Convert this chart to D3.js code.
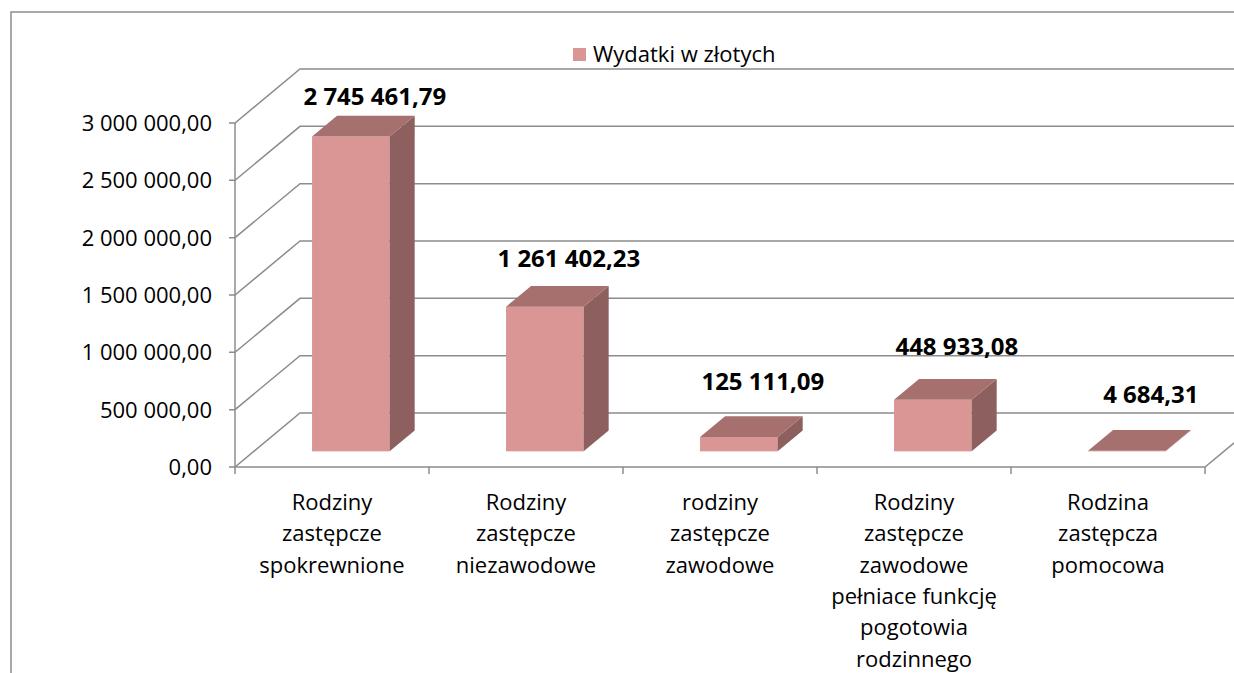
<!DOCTYPE html>
<html>
<head>
<meta charset="utf-8">
<script src="https://cdn.jsdelivr.net/npm/d3@7"></script>
<style>
  body { margin: 0; background: #fff; }
  text { font-family: "Open Sans", sans-serif; fill: #000; }
</style>
</head>
<body>
<script>
// data
var categories = [
  'Rodziny\nzastępcze\nspokrewnione',
  'Rodziny\nzastępcze\nniezawodowe',
  'rodziny\nzastępcze\nzawodowe',
  'Rodziny\nzastępcze\nzawodowe\npełniace funkcję\npogotowia\nrodzinnego',
  'Rodzina\nzastępcza\npomocowa'
];
var values = [2745461.79, 1261402.23, 125111.09, 448933.08, 4684.31];
var yTicks = [0, 500000, 1000000, 1500000, 2000000, 2500000, 3000000];
var seriesName = 'Wydatki w złotych';

var width = 1234, height = 673;
var depthX = 65, depthY = -54;   // 3d depth vector
var barFront = 0.29, barBack = 0.675;
var colFront = '#D99694', colTop = '#A5706E', colSide = '#8D5F5E';
var gridCol = '#8c8c8c';

var pl = d3.formatLocale({decimal: ',', thousands: ' ', grouping: [3], currency: ['', '']});
var fmt = pl.format(',.2f');

var svg = d3.select('body').append('svg')
  .attr('width', width).attr('height', height);

// outer chart border
svg.append('rect')
  .attr('x', 11).attr('y', 12)
  .attr('width', 1300).attr('height', 800)
  .attr('fill', 'none').attr('stroke', gridCol).attr('stroke-width', 1.5);

var x = d3.scaleBand().domain(categories).range([235, 1205]);
var y = d3.scaleLinear().domain([0, 3000000]).range([467, 123]);
var labelY = d3.scaleLinear().domain([0, 3000000]).range([404, 77]);

var x0 = x.range()[0], x1 = x.range()[1], yb = y(0);

// walls + gridlines
var grid = svg.append('g').attr('stroke', gridCol).attr('stroke-width', 1.5).attr('fill', 'none');
yTicks.forEach(function(t) {
  var yy = y(t);
  grid.append('path')
    .attr('d', 'M' + (x0 - 6) + ',' + yy + 'L' + x0 + ',' + yy +
      'L' + (x0 + depthX) + ',' + (yy + depthY) + 'L' + (width + 20) + ',' + (yy + depthY));
});
grid.append('line')
  .attr('x1', x0).attr('x2', x0)
  .attr('y1', y(3000000)).attr('y2', yb + 7);
grid.append('path')
  .attr('d', 'M' + x0 + ',' + yb + 'L' + x1 + ',' + yb + 'L' + (x1 + depthX) + ',' + (yb + depthY));
categories.forEach(function(c) {
  var xx = x(c) + x.bandwidth();
  grid.append('line').attr('x1', xx).attr('x2', xx).attr('y1', yb).attr('y2', yb + 7);
});

// y axis labels
svg.append('g').selectAll('text')
  .data(yTicks).enter().append('text')
  .attr('x', 212).attr('y', function(d) { return y(d); })
  .attr('dy', '0.36em')
  .attr('text-anchor', 'end')
  .style('font-size', '22px')
  .text(function(d) { return fmt(d); });

// bars
var bw = x.bandwidth() * 0.4;
var bars = svg.append('g');
values.forEach(function(v, i) {
  var bx = x(categories[i]) + (x.bandwidth() - bw) / 2 + barFront * depthX;
  var top = y(v) + barFront * depthY;
  var bot = yb + barFront * depthY;
  var sx = (barBack - barFront) * depthX, sy = (barBack - barFront) * depthY;
  var g = bars.append('g');
  g.append('rect')
    .attr('x', bx).attr('y', top)
    .attr('width', bw).attr('height', bot - top)
    .attr('fill', colFront);
  g.append('path')
    .attr('d', 'M' + (bx + bw) + ',' + top + 'L' + (bx + bw + sx) + ',' + (top + sy) +
      'L' + (bx + bw + sx) + ',' + (bot + sy) + 'L' + (bx + bw) + ',' + bot + 'Z')
    .attr('fill', colSide);
  g.append('path')
    .attr('d', 'M' + bx + ',' + top + 'L' + (bx + bw) + ',' + top +
      'L' + (bx + bw + sx) + ',' + (top + sy) + 'L' + (bx + sx) + ',' + (top + sy) + 'Z')
    .attr('fill', colTop);
  svg.append('text')
    .attr('x', bx + bw / 2 + 24)
    .attr('y', labelY(v))
    .attr('text-anchor', 'middle')
    .style('font-size', '24px').style('font-weight', 'bold')
    .text(fmt(v));
});

// category labels
categories.forEach(function(c) {
  var t = svg.append('text')
    .attr('text-anchor', 'middle')
    .style('font-size', '22px');
  c.split('\n').forEach(function(line, j) {
    t.append('tspan')
      .attr('x', x(c) + x.bandwidth() / 2)
      .attr('y', 510 + j * 31.3)
      .text(line);
  });
});

// legend
var leg = svg.append('g');
leg.append('rect').attr('x', 573).attr('y', 48).attr('width', 13).attr('height', 13).attr('fill', colFront);
leg.append('text').attr('x', 593).attr('y', 62).style('font-size', '22px').text(seriesName);
</script>
</body>
</html>
